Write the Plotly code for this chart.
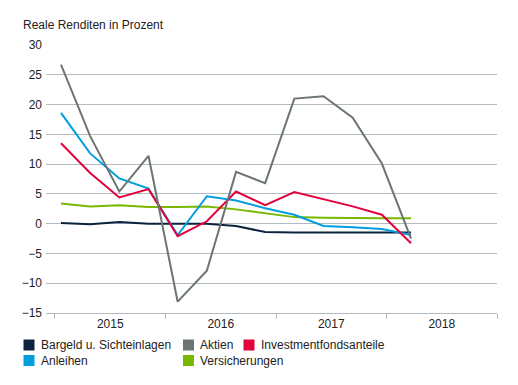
import plotly.graph_objects as go

years = ["2015", "2016", "2017", "2018"]
quarters = list(range(13))

bargeld = [0.1, -0.1, 0.3, 0.0, 0.0, 0.0, -0.4, -1.4, -1.5, -1.5, -1.6, -1.6, -1.5]
aktien = [26.7, 14.7, 5.4, 11.4, -13.1, -7.9, 8.7, 6.8, 21.0, 21.4, 17.8, 10.1, -2.5]
invest = [13.5, 8.5, 4.4, 5.8, -2.1, 0.4, 5.4, 3.1, 5.3, 4.1, 2.9, 1.5, -3.3]
anleihen = [18.6, 11.8, 7.6, 5.9, -1.9, 4.6, 3.9, 2.6, 1.5, -0.4, -0.6, -0.9, -1.9]
versich = [3.4, 2.9, 3.1, 2.8, 2.8, 2.9, 2.4, 1.8, 1.1, 1.0, 0.9, 0.9, 0.9]

series = [
    ("Bargeld u. Sichteinlagen", bargeld, "#0c2340"),
    ("Aktien", aktien, "#6d7474"),
    ("Investmentfondsanteile", invest, "#e3003c"),
    ("Anleihen", anleihen, "#009ddf"),
    ("Versicherungen", versich, "#78b800"),
]

# legend placement (pixel columns / rows of the legend grid)
legend_cols = [23.5, 183, 243.5]
legend_rows = [345, 360.5]
legend_slots = [(0, 0), (1, 0), (2, 0), (0, 1), (1, 1)]

W, H = 518, 385
ML, MR, MT, MB = 46, 21, 45, 72
PW, PH = W - ML - MR, H - MT - MB


def px(x):
    return (x - ML) / PW


def py(y):
    return (H - MB - y) / PH


font = "Liberation Sans, Arial, sans-serif"
fig = go.Figure()

# year category axis (ticks at boundaries)
fig.add_trace(go.Scatter(x=years, y=[None] * 4, xaxis="x2", yaxis="y",
                         showlegend=False, hoverinfo="skip", mode="lines"))

draw_order = [0, 4, 3, 2, 1]
for idx in draw_order:
    name, vals, col = series[idx]
    fig.add_trace(go.Scatter(x=quarters, y=vals, mode="lines", name=name,
                             line=dict(color=col, width=2), showlegend=False))

sw = 11
for (name, vals, col), (c, r) in zip(series, legend_slots):
    x0 = legend_cols[c]
    yc = legend_rows[r]
    fig.add_shape(type="rect", xref="paper", yref="paper",
                  x0=px(x0), x1=px(x0 + sw), y0=py(yc + sw / 2), y1=py(yc - sw / 2),
                  fillcolor=col, line=dict(width=0))
    fig.add_annotation(text=name, xref="paper", yref="paper",
                       x=px(x0 + sw + 4), y=py(yc), xanchor="left", yanchor="middle",
                       showarrow=False, font=dict(size=12, color="#222222"))

grid = "#b3bbc0"
fig.update_layout(
    width=W, height=H,
    margin=dict(l=ML, r=MR, t=MT, b=MB, autoexpand=False),
    paper_bgcolor="white", plot_bgcolor="white",
    font=dict(family=font, size=12, color="#222222"),
    showlegend=False,
    xaxis=dict(range=[-0.514, 14.947], visible=False, showgrid=False,
               zeroline=False),
    xaxis2=dict(type="category", categoryarray=years, overlaying="x",
                side="bottom", anchor="y", range=[-0.5814, 3.5],
                tickson="boundaries", ticks="outside", ticklen=5,
                tickcolor=grid, showline=True, linecolor=grid, linewidth=1,
                showgrid=False, zeroline=False,
                tickfont=dict(size=12, color="#222222")),
    yaxis=dict(range=[-15, 30], tickvals=[-15, -10, -5, 0, 5, 10, 15, 20, 25, 30],
               showgrid=True, gridcolor=grid, gridwidth=1,
               zeroline=True, zerolinecolor=grid, zerolinewidth=1,
               showline=False, ticks="", ticklabelstandoff=3,
               tickfont=dict(size=12, color="#222222")),
)

fig.add_annotation(text="Reale Renditen in Prozent", xref="paper", yref="paper",
                   x=px(21), xanchor="left", y=py(25), yanchor="middle",
                   showarrow=False, font=dict(size=12, color="#222222"))

fig.write_html("out.html", config={"displayModeBar": False},
               post_script="document.body.style.margin='0';document.body.style.padding='0';")
